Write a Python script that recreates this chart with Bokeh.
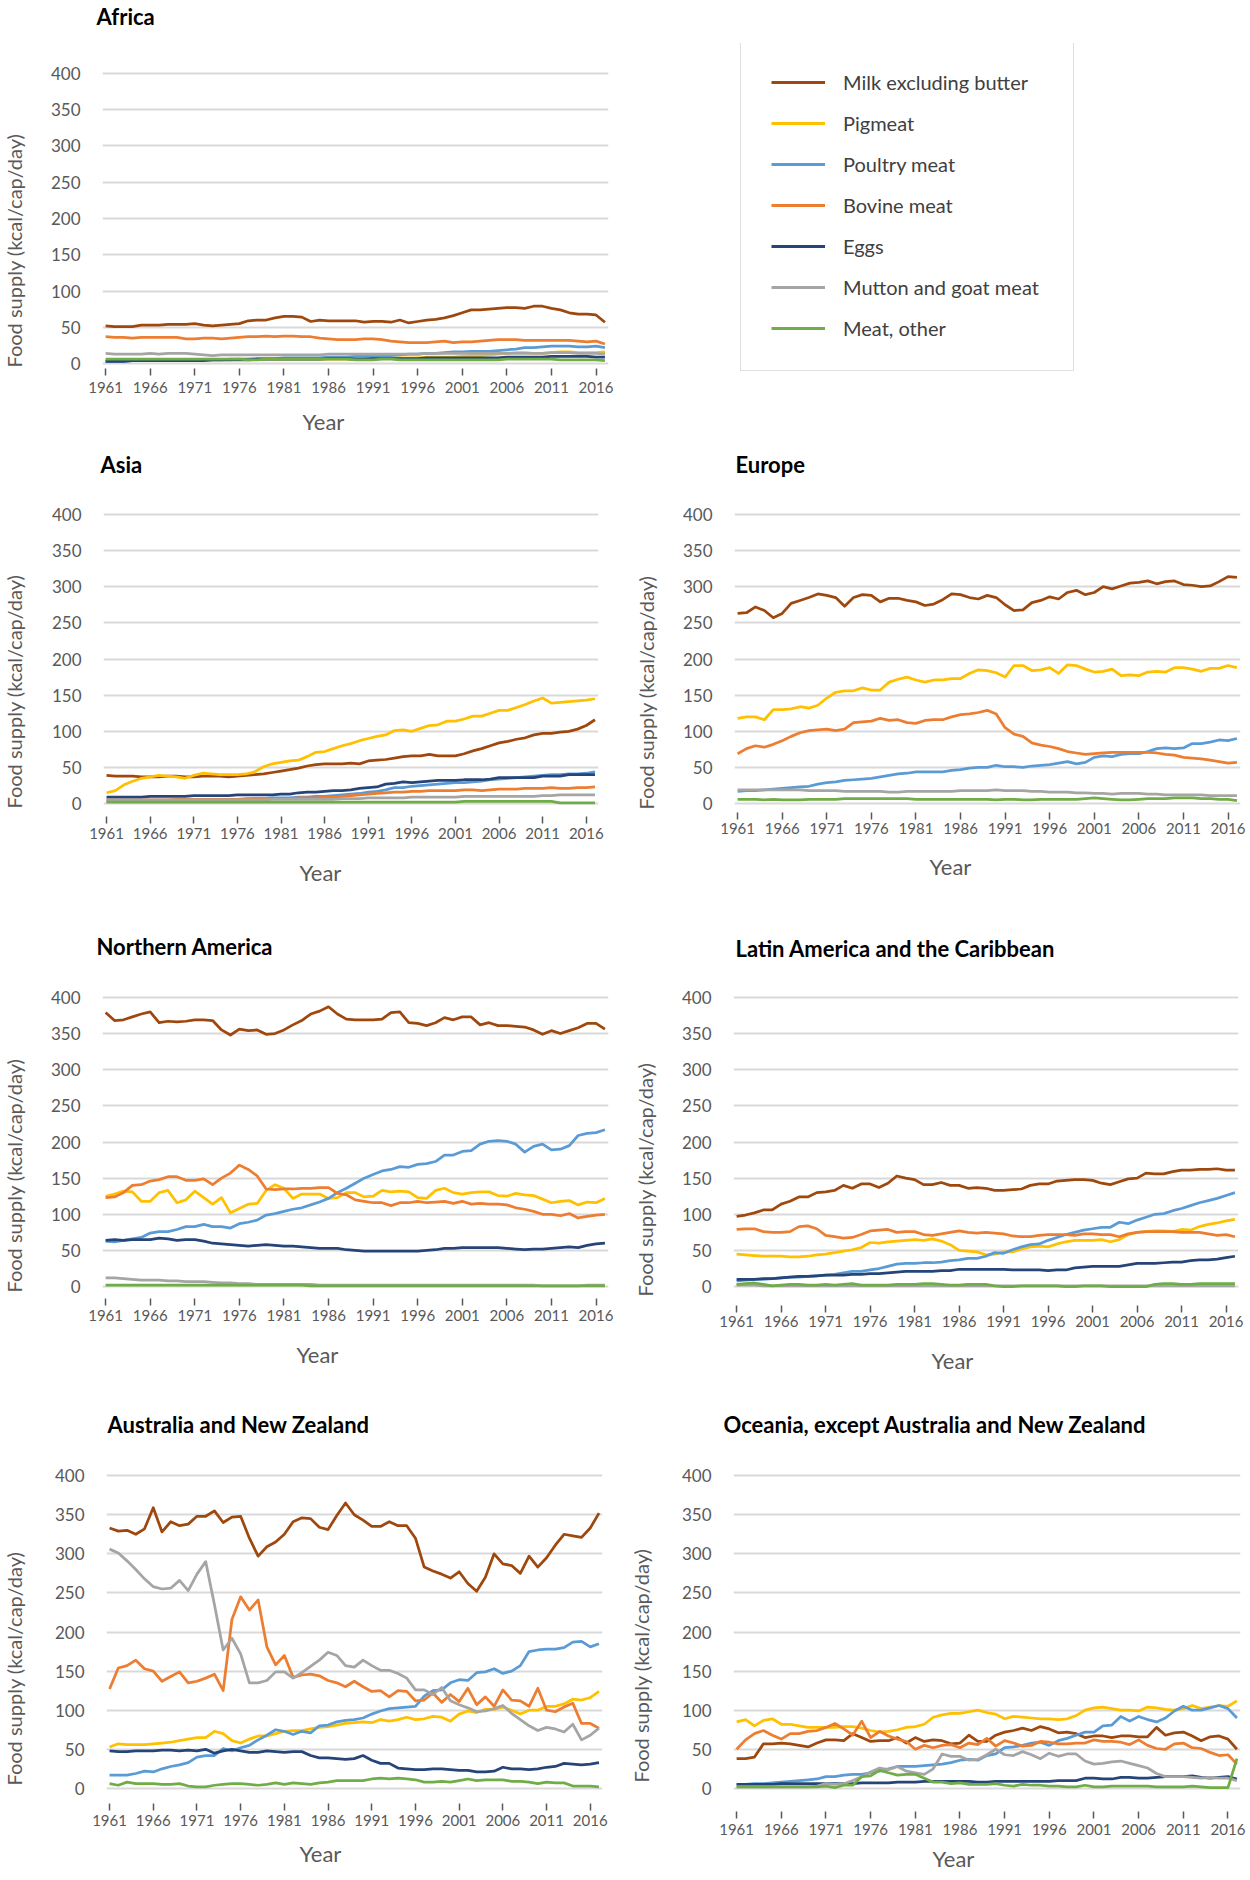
from bokeh.plotting import figure
from bokeh.models import Range1d, FixedTicker, Title, Legend, LegendItem
from bokeh.layouts import column, row
from bokeh.embed import file_html
from bokeh.resources import INLINE

FONT = "Lato"
YEARS = list(range(1961, 2018))
X_TICKS = [1961, 1966, 1971, 1976, 1981, 1986, 1991, 1996, 2001, 2006, 2011, 2016]
Y_TICKS = [0, 50, 100, 150, 200, 250, 300, 350, 400]
SERIES_NAMES = ["Milk excluding butter", "Pigmeat", "Poultry meat", "Bovine meat",
                "Eggs", "Mutton and goat meat", "Meat, other"]
SERIES_COLORS = ["#9E480E", "#FFC000", "#5B9BD5", "#ED7D31", "#264478", "#A5A5A5", "#70AD47"]

# ---------------- Africa ----------------
AF_MILK = [52,51,51,51,53,53,53,54,54,54, 55,53,52,53,54,55,59,60,60,63, 65,65,64,58,60,59,59,59,59,57,
           58,58,57,60,56,58,60,61,63,66, 70,74,74,75,76,77,77,76,79,79, 76,74,70,68,68,67,57]
AF_PIG = [4,4,4,4,4,4,4,5,5,5, 5,5,5,5,5,6,6,6,6,6, 6,6,6,6,6,6,6,6,6,7,
          7,7,8,8,8,8,9,9,9,9, 10,11,11,12,13,14,15,15,14,14, 15,16,16,15,15,15,16]
AF_POULTRY = [3,3,3,4,4,4,4,4,4,5, 5,5,5,5,6,6,6,7,7,7, 8,8,8,8,8,9,9,9,10,10,
              10,11,11,12,13,13,14,14,15,16, 16,17,17,17,18,19,20,22,22,23, 24,24,24,23,23,24,22]
AF_BOVINE = [37,36,36,35,36,36,36,36,36,34, 34,35,35,34,35,36,37,37,38,37, 38,38,37,37,35,34,33,33,33,34,
             34,33,31,30,29,29,29,30,31,29, 30,30,31,32,33,33,33,32,32,32, 32,32,32,31,30,31,27]
AF_EGGS = [3,3,3,4,4,4,4,4,4,4, 4,4,5,5,5,5,5,6,6,6, 6,6,6,6,6,7,7,7,6,6,
           7,7,7,7,7,7,8,8,8,8, 8,8,8,8,8,9,9,9,9,9, 10,10,10,10,10,9,9]
AF_MUTTON = [14,13,13,13,13,14,13,14,14,14, 13,12,11,12,12,12,12,12,12,12, 12,12,12,12,12,13,13,13,13,13,
             13,13,13,13,13,13,14,14,14,14, 14,14,14,14,14,14,14,14,14,14, 15,15,15,14,14,14,13]
AF_OTHER = [6,6,6,6,6,6,6,6,6,6, 6,6,6,6,6,6,5,5,6,6, 6,6,6,6,6,6,6,6,5,5,
            5,6,6,5,5,5,5,5,5,5, 5,5,5,5,5,6,6,6,6,6, 6,5,5,5,5,5,4]

# ---------------- Asia ----------------
AS_MILK = [39,38,38,38,37,37,37,38,38,37, 37,38,38,38,37,38,39,40,41,43, 45,47,49,52,54,55,55,55,56,55,
           59,60,61,63,65,66,66,68,66,66, 66,69,73,76,80,84,86,89,91,95, 97,97,99,100,103,108,116]
AS_PIG = [15,18,26,31,35,37,39,38,37,35, 39,42,41,40,40,40,41,44,51,55, 57,59,60,65,71,72,76,80,83,87,
          90,93,95,101,102,100,104,108,109,114, 114,117,121,121,125,129,129,133,137,142, 146,139,140,141,142,143,145]
AS_POULTRY = [3,3,3,3,4,4,4,4,4,5, 5,5,5,5,6,6,6,7,7,8, 8,8,9,9,10,10,11,12,13,14,
              16,17,19,22,22,24,25,26,27,28, 29,29,30,31,33,34,35,36,37,38, 39,40,40,41,41,42,44]
AS_BOVINE = [5,5,5,5,5,5,5,5,6,6, 6,6,6,6,6,6,7,7,7,7, 7,7,8,8,8,9,9,10,11,12,
             13,14,15,16,16,17,17,18,18,18, 18,19,19,18,19,20,20,20,21,21, 21,22,21,21,22,22,23]
AS_EGGS = [9,9,9,9,9,10,10,10,10,10, 11,11,11,11,11,12,12,12,12,12, 13,13,15,16,16,17,18,18,19,21,
           22,23,27,28,30,29,30,31,32,32, 32,33,33,33,34,36,36,36,36,36, 38,38,38,40,40,40,40]
AS_MUTTON = [5,5,5,5,5,5,5,5,5,5, 5,5,5,5,5,5,5,5,5,6, 6,6,6,6,6,6,6,7,7,7,
             8,8,8,8,8,9,9,9,9,9, 9,10,10,10,10,10,10,10,10,10, 11,11,12,12,12,12,12]
AS_OTHER = [2,2,2,2,2,2,2,2,2,2, 2,2,2,2,2,2,2,2,2,2, 2,2,2,2,2,2,2,2,2,2,
            2,2,2,2,2,2,2,2,2,2, 2,3,3,3,3,3,3,3,3,3, 3,3,1,1,1,1,1]

# ---------------- Europe ----------------
EU_MILK = [263,264,272,267,257,263,277,281,285,290, 288,285,273,285,289,288,279,284,284,281,
           279,274,276,282,290,289,285,283,288,285, 275,267,268,278,281,286,283,292,295,289,
           292,300,297,301,305,306,308,304,307,308, 303,302,300,301,307,314,313]
EU_PIG = [118,120,120,116,130,130,131,134,132,136, 146,154,156,156,160,157,157,168,172,175,
          171,168,171,171,173,173,180,185,184,181, 175,191,191,184,185,188,180,192,191,186,
          182,183,186,177,178,177,182,183,182,188, 188,186,183,187,187,191,188]
EU_POULTRY = [17,18,18,19,20,21,22,23,24,27, 29,30,32,33,34,35,37,39,41,42, 44,44,44,44,46,47,49,50,50,53,
              51,51,50,52,53,54,56,58,55,57, 64,66,65,68,69,69,72,76,77,76, 77,83,83,85,88,87,90]
EU_BOVINE = [69,76,80,78,82,87,93,98,101,102, 103,101,103,112,113,114,118,115,116,112,
             111,115,116,116,120,123,124,126,129,124, 105,96,93,84,81,79,76,72,70,68,
             69,70,71,71,71,71,71,70,68,67, 64,63,62,60,58,56,57]
EU_EGGS = []
EU_MUTTON = [19,19,19,19,19,19,19,19,18,18, 18,18,17,17,17,17,17,16,16,17, 17,17,17,17,17,18,18,18,18,19,
             18,18,18,17,17,16,16,16,15,15, 14,14,13,14,14,14,13,13,12,12, 12,12,12,11,11,11,11]
EU_OTHER = [6,6,6,5,6,5,5,5,6,6, 6,6,7,7,7,7,7,7,7,7, 6,6,6,6,6,6,6,6,6,5,
            6,6,5,5,6,6,6,6,6,7, 8,7,6,5,5,6,7,7,7,8, 8,8,7,7,6,6,4]

# ---------------- Northern America ----------------
NA_MILK = [379,368,369,373,377,380,365,367,366,367, 369,369,368,355,348,356,354,355,349,350,
           355,362,368,377,381,387,377,370,369,369, 369,370,379,380,365,364,361,365,372,369,
           373,373,362,365,361,361,360,359,355,349, 354,350,354,358,364,364,356]
NA_PIG = [125,128,132,131,118,118,130,133,116,120, 132,123,114,123,102,108,114,115,133,141,
          136,122,128,128,128,122,123,130,130,124, 125,133,131,132,131,123,122,133,136,130,
          128,130,131,131,126,125,129,127,126,121, 116,118,119,113,117,116,122]
NA_POULTRY = [63,62,64,66,68,74,76,76,79,83, 83,86,83,83,81,87,89,92,99,101,
              104,107,109,113,117,122,130,136,143,150, 155,160,162,166,165,169,170,173,182,182,
              187,188,197,201,202,201,197,186,194,197, 189,190,195,209,212,213,217]
NA_BOVINE = [123,124,130,140,141,146,148,152,152,147, 147,149,141,150,157,168,162,153,135,134,
             135,135,136,136,137,137,129,127,120,118, 116,116,112,116,116,118,116,117,118,115,
             118,114,115,114,114,113,109,107,104,100, 100,98,101,95,97,99,100]
NA_EGGS = [64,65,64,65,65,65,67,66,64,65, 65,63,60,59,58,57,56,57,58,57, 56,56,55,54,53,53,53,51,50,49,
           49,49,49,49,49,49,50,51,53,53, 54,54,54,54,54,53,52,51,52,52, 53,54,55,54,57,59,60]
NA_MUTTON = [12,12,11,10,9,9,9,8,8,7, 7,7,6,5,5,4,4,3,3,3, 3,3,3,3,2,2,2,2,2,2,
             2,2,2,2,2,2,2,2,2,2, 2,2,2,2,2,2,2,2,2,1, 1,1,1,1,2,2,2]
NA_OTHER = [2,2,2,2,2,2,2,2,2,2, 2,2,2,2,2,2,2,2,2,2, 2,2,2,1,1,1,1,1,1,1,
            1,1,1,1,1,1,1,1,1,1, 1,1,1,1,1,1,1,1,1,1, 1,1,1,1,1,1,1]

# ---------------- Latin America and the Caribbean ----------------
LA_MILK = [97,99,102,106,106,114,118,124,124,130, 131,133,140,136,142,142,137,143,153,150,
           148,141,141,144,140,140,136,137,136,133, 133,134,135,140,142,142,146,147,148,148,
           147,143,141,145,149,150,157,156,156,159, 161,161,162,162,163,161,161]
LA_PIG = [45,44,43,42,42,42,41,41,42,44, 45,47,49,51,54,61,60,62,63,64, 65,64,66,63,58,50,49,48,44,45,
          48,48,52,55,56,55,59,62,64,64, 64,65,62,65,72,75,76,77,77,76, 79,78,83,86,88,91,93]
LA_POULTRY = [8,9,10,10,11,12,13,13,14,15, 16,17,19,21,21,23,25,28,31,32, 32,33,33,34,36,37,39,39,42,47,
              46,51,55,58,59,64,68,72,75,78, 80,82,82,89,87,92,96,100,101,105, 108,112,116,119,122,126,130]
LA_BOVINE = [79,80,80,76,75,75,76,83,84,80, 71,69,67,68,72,77,78,79,75,76, 76,72,71,73,75,77,75,74,75,74,
             73,70,69,69,71,72,72,72,71,73, 73,72,72,69,73,75,76,76,76,76, 75,75,75,73,71,72,69]
LA_EGGS = [10,10,10,11,11,12,13,14,14,15, 16,16,16,17,17,18,18,19,20,21, 21,21,21,22,22,24,24,24,24,24,
           24,23,23,23,23,22,23,23,26,27, 28,28,28,28,30,32,32,32,33,34, 34,36,37,37,38,40,42]
LA_MUTTON = [2,2,2,1,1,1,1,1,1,1, 1,1,1,1,1,1,1,1,1,1, 1,1,1,1,1,1,1,1,1,1,
             1,1,1,1,1,1,1,1,1,1, 1,1,1,1,1,1,1,1,1,1, 1,1,1,1,1,1,1]
LA_OTHER = [3,4,5,3,1,2,3,3,2,2, 3,2,3,4,2,2,2,2,3,3, 3,4,4,3,2,2,3,3,3,1,
            0,0,1,1,1,1,1,0,0,1, 1,1,0,0,0,0,0,3,4,4, 3,3,4,4,4,4,4]

# ---------------- Australia and New Zealand ----------------
AN_MILK = [333,329,330,325,332,359,328,341,336,338, 348,348,355,340,347,348,320,297,309,315,
           325,341,346,345,334,331,349,365,350,343, 335,335,341,336,336,320,283,278,274,269,
           277,262,252,270,300,287,285,275,297,283, 295,311,325,323,321,333,352]
AN_PIG = [53,57,56,56,56,57,58,59,61,63, 65,65,73,70,61,58,63,67,67,70, 73,74,74,76,78,79,81,83,84,85,
          84,88,86,88,91,88,89,92,91,86, 95,99,97,101,101,104,100,95,100,100, 105,105,108,114,113,116,124]
AN_POULTRY = [17,17,17,19,22,21,25,28,30,33, 40,42,42,51,48,52,55,62,68,75, 73,69,73,71,80,81,85,87,88,90,
              95,99,102,103,104,105,118,125,126,135, 139,138,148,149,153,147,150,157,175,177,
              178,178,180,187,188,181,185]
AN_BOVINE = [127,154,157,164,153,150,137,143,149,135, 137,141,146,125,216,245,228,241,181,158,
             170,142,145,146,144,138,135,130,137,130, 124,125,117,125,124,112,113,122,110,120,
             111,128,107,117,105,126,113,112,105,128, 100,98,104,109,83,83,77]
AN_EGGS = [48,47,47,48,48,48,49,49,48,49, 48,50,45,48,50,48,46,46,48,47, 46,47,47,42,39,39,38,37,38,42,
           36,32,32,26,25,24,24,25,25,24, 23,23,21,21,22,27,25,25,24,25, 27,28,32,31,30,31,33]
AN_MUTTON = [306,301,291,280,268,258,255,256,266,253, 274,290,235,177,192,172,135,135,138,149,
             149,141,148,156,164,174,170,157,155,164, 157,151,151,147,141,126,126,120,129,112,
             107,103,98,99,102,106,96,88,80,74, 78,76,72,82,62,68,77]
AN_OTHER = [6,4,8,6,6,6,5,5,6,3, 2,2,4,5,6,6,5,4,5,7, 5,7,6,5,7,8,10,10,10,10,
            12,13,12,13,12,11,8,8,9,8, 10,12,10,11,11,11,9,9,8,6, 8,7,7,3,3,3,2]

# ---------------- Oceania, except Australia and New Zealand ----------------
OC_MILK = [38,38,40,57,57,58,57,55,53,58, 62,62,61,70,65,60,61,61,65,58, 65,60,62,61,57,58,68,60,60,68,
           72,74,77,74,79,76,71,72,70,65, 67,67,65,67,67,66,66,78,68,71, 72,67,61,66,67,63,50]
OC_PIG = [85,88,80,87,89,82,82,80,78,78, 78,78,79,79,77,74,72,73,75,78, 79,82,91,94,96,96,98,100,97,95,
          89,92,91,90,89,89,88,89,93,100, 103,104,102,100,100,99,104,103,101,100, 102,106,102,104,106,105,112]
OC_POULTRY = [5,5,6,6,7,8,9,10,11,12, 15,15,17,18,18,20,22,25,28,28, 28,29,30,31,33,36,37,36,42,44,
              52,53,55,58,59,55,61,64,68,72, 72,80,81,92,86,92,88,85,90,99, 105,100,100,103,106,102,90]
OC_BOVINE = [50,62,70,74,68,63,70,70,73,74, 78,83,76,68,86,65,73,67,63,60, 50,55,52,55,56,52,58,56,64,54,
             61,58,54,55,60,59,57,57,58,58, 62,60,60,59,56,62,55,51,50,57, 58,52,51,46,42,43,31]
OC_EGGS = [5,5,5,5,5,6,6,6,6,6, 6,6,6,6,7,7,7,7,8,8, 8,9,9,9,9,9,9,8,8,9,
           9,9,9,9,9,9,10,10,10,13, 13,12,12,14,14,13,13,14,15,15, 15,16,14,13,14,15,12]
OC_MUTTON = [2,2,2,2,2,2,2,2,2,3, 6,5,6,10,15,21,26,24,28,22, 20,18,25,44,41,41,36,37,43,50,
             43,42,47,43,38,45,41,44,44,35, 31,32,34,35,32,29,26,19,15,15, 15,14,13,14,13,13,10]
OC_OTHER = [2,2,2,2,2,2,2,2,2,2, 3,1,4,4,15,16,23,20,17,18, 18,13,8,8,6,7,5,5,5,6,
            4,3,5,4,4,3,3,2,2,4, 2,2,3,3,3,3,3,2,2,2, 2,3,2,1,1,1,38]

REGIONS = {
    "Africa": [AF_MILK, AF_PIG, AF_POULTRY, AF_BOVINE, AF_EGGS, AF_MUTTON, AF_OTHER],
    "Asia": [AS_MILK, AS_PIG, AS_POULTRY, AS_BOVINE, AS_EGGS, AS_MUTTON, AS_OTHER],
    "Europe": [EU_MILK, EU_PIG, EU_POULTRY, EU_BOVINE, EU_EGGS, EU_MUTTON, EU_OTHER],
    "Northern America": [NA_MILK, NA_PIG, NA_POULTRY, NA_BOVINE, NA_EGGS, NA_MUTTON, NA_OTHER],
    "Latin America and the Caribbean": [LA_MILK, LA_PIG, LA_POULTRY, LA_BOVINE, LA_EGGS, LA_MUTTON, LA_OTHER],
    "Australia and New Zealand": [AN_MILK, AN_PIG, AN_POULTRY, AN_BOVINE, AN_EGGS, AN_MUTTON, AN_OTHER],
    "Oceania, except Australia and New Zealand": [OC_MILK, OC_PIG, OC_POULTRY, OC_BOVINE, OC_EGGS, OC_MUTTON, OC_OTHER],
}

bad = [(r, SERIES_NAMES[i], len(s)) for r, ss in REGIONS.items() for i, s in enumerate(ss)
       if s and len(s) != len(YEARS)]
if bad:
    raise SystemExit("bad lengths: %r" % bad)

# Layout (pixels): width, height, frame left, frame width, frame top, frame height,
# y-range, title offset, title spacer, tick in, tick out, tick-label standoff,
# "Year" offset, "Year" standoff, y-title offset, y-title spacer
LAYOUT = {
    "Africa": (625, 448, 102, 506, 40, 333, (-13.65, 440.96), -6, 7, 5, 2, 6, 200, 24, 6, 16),
    "Asia": (625, 482, 96, 502, 60, 298, (-4, 404), -3, 27, -10, 17, 4, 196, 34, -2, 17),
    "Europe": (625, 482, 109, 506, 60, 298, (-4, 404), 1, 27, -6, 13, 3, 195, 32, -3, 16),
    "Northern America": (625, 478, 102, 506, 61, 298, (-4, 404), -6, 28, -9, 16, 4, 194, 34, -3, 16),
    "Latin America and the Caribbean": (625, 478, 108, 505, 61, 298, (-4, 404), 2, 26, -16, 23, 3, 198, 34, -7, 16),
    "Australia and New Zealand": (625, 472, 95, 507, 61, 324, (-4, 404), 1, 28, -12, 19, 4, 193, 22, 6, 20),
    "Oceania, except Australia and New Zealand": (625, 472, 108, 507, 61, 324, (-4, 404), -10, 28, -20, 27, 5, 199, 14, 9, 20),
}
GREY = "#595959"


def make_panel(name):
    (W, H, L, FW, T, FH, yr, t_off, sp_so, t_in, t_out, lab_so,
     yr_off, yr_so, yt_off, yt_sp) = LAYOUT[name]
    p = figure(width=W, height=H, title=None,
               x_range=Range1d(1960.65, 2017.4), y_range=Range1d(*yr),
               toolbar_location=None, output_backend="svg",
               min_border_left=L, min_border_right=W - L - FW,
               min_border_top=T, min_border_bottom=H - T - FH)
    p.outline_line_color = None
    p.xgrid.grid_line_color = None
    p.ygrid.grid_line_color = "#D9D9D9"
    p.ygrid.grid_line_width = 2
    p.ygrid.ticker = FixedTicker(ticks=Y_TICKS)

    p.yaxis.ticker = FixedTicker(ticks=Y_TICKS)
    p.yaxis.axis_line_color = None
    p.yaxis.major_tick_line_color = None
    p.yaxis.minor_tick_line_color = None
    p.yaxis.major_label_standoff = 16
    p.yaxis.major_label_text_font = FONT
    p.yaxis.major_label_text_font_size = "17px"
    p.yaxis.major_label_text_color = GREY

    p.xaxis.ticker = FixedTicker(ticks=X_TICKS)
    p.xaxis.axis_line_color = None
    p.xaxis.major_tick_line_color = GREY
    p.xaxis.major_tick_line_width = 1.5
    p.xaxis.major_tick_in = t_in
    p.xaxis.major_tick_out = t_out
    p.xaxis.minor_tick_line_color = None
    p.xaxis.major_label_standoff = lab_so
    p.xaxis.major_label_text_font = FONT
    p.xaxis.major_label_text_font_size = "15px"
    p.xaxis.major_label_text_color = GREY

    for values, color in zip(REGIONS[name], SERIES_COLORS):
        if values:
            p.line(YEARS, values, line_color=color, line_width=2.75, line_join="round")

    # panel title, separated from the frame by an empty spacer title
    p.add_layout(Title(text=" ", text_font_size="1px", standoff=sp_so), "above")
    p.add_layout(Title(text=name, align="left", offset=t_off, vertical_align="top", standoff=4,
                       text_font=FONT, text_font_size="22px", text_font_style="bold",
                       text_color="#000000"), "above")
    # x-axis title
    p.add_layout(Title(text="Year", align="left", offset=yr_off, vertical_align="top",
                       standoff=yr_so, text_font=FONT, text_font_size="22px",
                       text_font_style="normal", text_color=GREY), "below")
    # y-axis title, pushed away from the tick labels by an empty spacer title
    p.add_layout(Title(text=" ", text_font_size="1px", standoff=yt_sp), "left")
    p.add_layout(Title(text="Food supply (kcal/cap/day)", align="left", offset=yt_off,
                       vertical_align="top", standoff=2, text_font=FONT,
                       text_font_size="20px", text_font_style="normal", text_color=GREY), "left")
    return p


def make_legend():
    # same vertical borders as the Africa panel it sits beside; the series are drawn
    # outside this figure's ranges so that only the legend shows
    p = figure(width=625, height=448, x_range=Range1d(0, 1), y_range=Range1d(0, 1),
               toolbar_location=None, output_backend="svg",
               x_axis_location=None, y_axis_location=None,
               min_border_left=0, min_border_right=0, min_border_top=40, min_border_bottom=75)
    p.outline_line_color = None
    p.grid.grid_line_color = None
    items = []
    for name, color, values in zip(SERIES_NAMES, SERIES_COLORS, REGIONS["Africa"]):
        r = p.line(YEARS, values, line_color=color, line_width=3)
        items.append(LegendItem(label=name, renderers=[r]))
    legend = Legend(items=items, location=(115, 2), padding=30, spacing=17,
                    label_height=20, glyph_height=20, glyph_width=54, label_standoff=18,
                    label_width=200, label_text_font=FONT, label_text_font_size="20px",
                    label_text_color="#404040", border_line_color="#BFBFBF",
                    border_line_width=1.5, background_fill_color="white",
                    background_fill_alpha=1)
    p.add_layout(legend)
    return p


page = column(
    row(make_panel("Africa"), make_legend()),
    row(make_panel("Asia"), make_panel("Europe")),
    row(make_panel("Northern America"), make_panel("Latin America and the Caribbean")),
    row(make_panel("Australia and New Zealand"), make_panel("Oceania, except Australia and New Zealand")),
)

open("out.html", "w").write(file_html(page, INLINE))
